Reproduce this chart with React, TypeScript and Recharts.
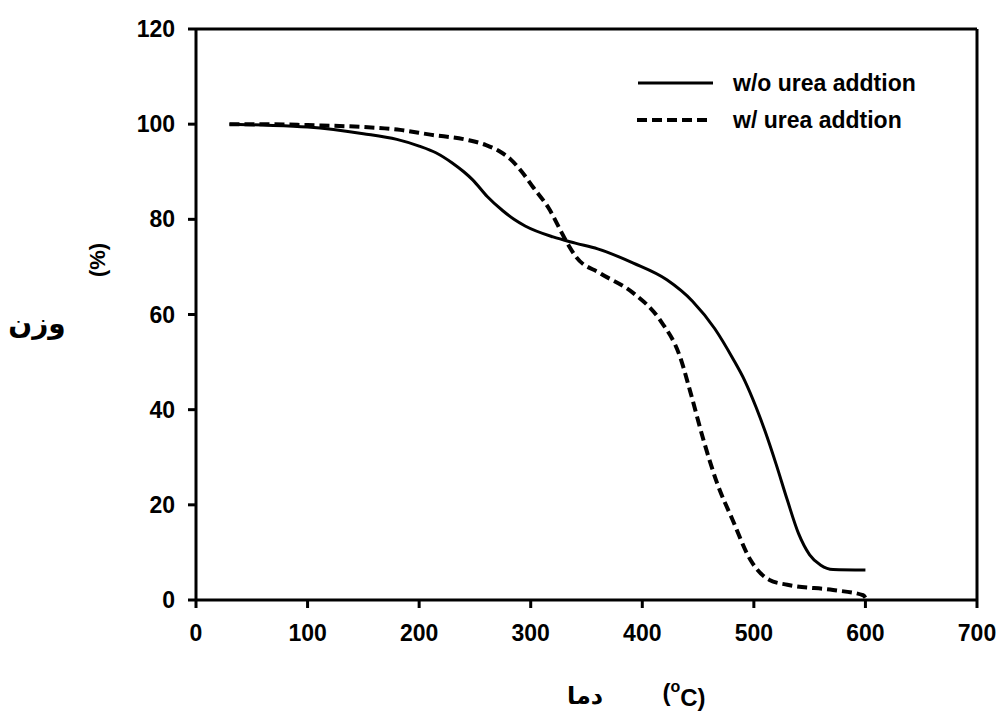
import { LineChart, Line, XAxis, YAxis, ReferenceLine } from 'recharts';

const xTicks = [0, 100, 200, 300, 400, 500, 600, 700];
const yTicks = [0, 20, 40, 60, 80, 100, 120];

// w/o urea addtion (solid)
const plainTemp = [30, 60, 100, 150, 180, 200, 215, 230, 240, 248, 261, 275, 285, 295, 320, 340, 360, 392, 422, 445, 465, 481, 492, 502, 510, 520, 530, 540, 550, 560, 571, 600];
const plainWeight = [100, 99.8, 99.4, 98, 96.8, 95.4, 94, 91.8, 90, 88.3, 84.8, 81.8, 80, 78.6, 76.3, 75, 73.8, 70.8, 67.3, 62.8, 57, 50.8, 46, 40.5, 35.5, 28.5, 21, 14, 9.5, 7.3, 6.4, 6.3];

// w/ urea addtion (dashed)
const ureaTemp = [30, 60, 100, 150, 183, 210, 243, 260, 272, 282, 292, 302, 317, 326, 334, 341, 362, 392, 416, 434, 443, 455, 467, 481, 497, 514, 530, 571, 598, 600];
const ureaWeight = [100, 100, 99.8, 99.4, 98.8, 97.8, 96.7, 95.6, 94.3, 92.6, 90, 86.8, 82, 78, 74.5, 72, 68.7, 64.5, 58.8, 51, 43.8, 33.5, 24.6, 16.8, 8.4, 4.2, 3.2, 2.1, 1, 0.5];

const plainData = plainTemp.map((t, i) => ({ t, w: plainWeight[i] }));
const ureaData = ureaTemp.map((t, i) => ({ t, w: ureaWeight[i] }));

const FONT = '"Liberation Sans", Arial, sans-serif';

export default function App() {
  const tick = { fill: '#000', fontSize: 23, fontWeight: 'bold', fontFamily: FONT };
  return (
    <div style={{ position: 'absolute', left: 0, top: 0, width: 1004, height: 715, background: '#fff', overflow: 'hidden' }}>
      <LineChart width={1004} height={715} margin={{ top: 29, right: 27, left: 136, bottom: 75 }}>
        <XAxis
          type="number"
          dataKey="t"
          domain={[0, 700]}
          ticks={xTicks}
          tick={tick}
          tickSize={8}
          tickMargin={17}
          height={40}
          stroke="#000"
          strokeWidth={3}
          allowDuplicatedCategory={false}
        />
        <YAxis
          type="number"
          dataKey="w"
          domain={[0, 120]}
          ticks={yTicks}
          tick={tick}
          tickSize={8}
          tickMargin={13}
          width={60}
          stroke="#000"
          strokeWidth={3}
        />
        <ReferenceLine y={120} stroke="#000" strokeWidth={3} />
        <ReferenceLine x={700} stroke="#000" strokeWidth={3} />
        <Line
          data={plainData}
          dataKey="w"
          name="w/o urea addtion"
          type="monotone"
          stroke="#000"
          strokeWidth={3}
          dot={false}
          isAnimationActive={false}
        />
        <Line
          data={ureaData}
          dataKey="w"
          name="w/ urea addtion"
          type="monotone"
          stroke="#000"
          strokeWidth={4}
          strokeDasharray="10 5"
          dot={false}
          isAnimationActive={false}
        />
      </LineChart>
      <svg width={1004} height={715} style={{ position: 'absolute', left: 0, top: 0, pointerEvents: 'none' }}>
        {/* legend */}
        <line x1={638} y1={83} x2={713} y2={83} stroke="#000" strokeWidth={3} />
        <text x={733} y={83} dy="0.35em" fontFamily={FONT} fontWeight="bold" fontSize={23}>w/o urea addtion</text>
        <line x1={637} y1={120} x2={707} y2={120} stroke="#000" strokeWidth={4} strokeDasharray="10 5" />
        <text x={733} y={120} dy="0.35em" fontFamily={FONT} fontWeight="bold" fontSize={23}>w/ urea addtion</text>
        {/* axis labels */}
        <text x={37} y={323} dy="0.35em" textAnchor="middle" fontFamily="DejaVu Sans" fontWeight="bold" fontSize={28}>وزن</text>
        <text x={97} y={260} dy="0.35em" textAnchor="middle" fontFamily={FONT} fontWeight="bold" fontSize={22} transform="rotate(-90 97 260)">(%)</text>
        <text x={684} y={693} dy="0.35em" textAnchor="middle" fontFamily={FONT} fontWeight="bold" fontSize={24}>
          (<tspan fontSize={16} dy="-0.6em">o</tspan><tspan dy="0.6em">C)</tspan>
        </text>
        <text x={585} y={704} textAnchor="middle" fontFamily="DejaVu Sans" fontWeight="bold" fontSize={24}>دما</text>
      </svg>
    </div>
  );
}
